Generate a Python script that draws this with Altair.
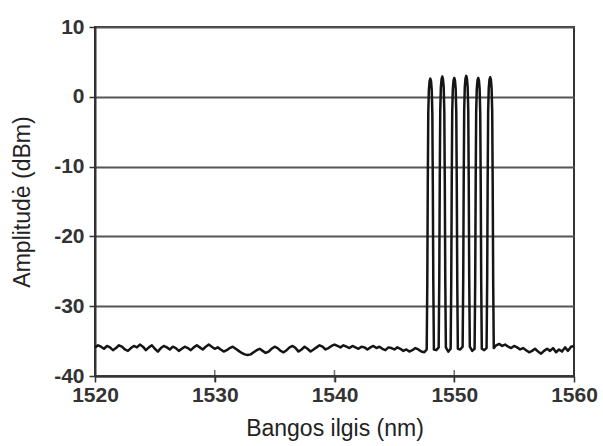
import altair as alt
import pandas as pd

# Noise floor before the channel block, 1520.00 .. 1547.50 nm every 0.25 nm (dBm)
pre_noise = [
    -35.9, -35.6, -35.8, -36.1, -35.7, -35.9, -36.3, -36.0, -35.6, -35.8,
    -36.2, -36.4, -36.0, -35.7, -35.9, -35.5, -35.8, -36.3, -35.9, -35.6,
    -36.1, -36.5, -36.0, -35.7, -35.9, -36.2, -35.8, -36.0, -36.4, -36.1,
    -35.8, -36.0, -36.3, -35.9, -35.6, -35.9, -36.2, -35.8, -35.5, -35.8,
    -36.1, -35.9, -36.2, -36.5, -36.3, -36.0, -35.8, -36.1, -36.4, -36.7,
    -36.9, -37.0, -36.9, -36.6, -36.3, -36.1, -36.4, -36.7, -36.5, -36.1,
    -35.8, -36.0, -36.4, -36.6, -36.3, -35.9, -35.7, -36.0, -36.5, -36.2,
    -35.8, -36.1, -36.5, -36.2, -35.9, -35.6, -35.8, -36.2, -36.0, -35.7,
    -35.5, -35.7, -35.9, -35.6, -35.8, -36.0, -35.7, -35.9, -36.1, -35.8,
    -35.9, -36.2, -35.9, -35.7, -36.0, -35.8, -36.1, -36.3, -35.9, -36.0,
    -36.2, -35.9, -36.1, -36.4, -36.2, -36.5, -36.3, -36.0, -36.2, -36.5,
    -36.6,
]
pre_start = 1520.0

# Noise floor after the channel block, 1553.50 .. 1560.00 nm every 0.25 nm
post_noise = [
    -35.6, -35.4, -35.7, -35.5, -35.8, -36.0, -35.7, -35.9, -36.2, -36.0,
    -36.3, -36.6, -36.4, -36.1, -36.5, -36.8, -36.4, -36.1, -36.4, -36.0,
    -36.6, -36.2, -36.5, -35.9, -36.4, -35.8, -35.7,
]
post_start = 1553.5
step = 0.25

# Six DWDM channels
peak_centers = [1548.0, 1549.0, 1550.0, 1551.0, 1552.0, 1553.0]
peak_tops = [2.6, 2.9, 2.7, 3.0, 2.7, 2.8]
valley_levels = [-36.3, -36.5, -36.2, -36.4, -36.3]

# Shape of one channel: offset from centre (nm) and drop below its top (dB)
profile_dx = [-0.30, -0.25, -0.21, -0.17, -0.12, -0.06, 0.0,
              0.06, 0.12, 0.17, 0.21, 0.25, 0.30]
profile_drop = [38.8, 29.0, 15.0, 5.0, 1.6, 0.35, 0.0,
                0.35, 1.6, 5.0, 15.0, 29.0, 38.8]

x_tick_values = [1520, 1530, 1540, 1550, 1560]
y_tick_values = [-40, -30, -20, -10, 0, 10]
inner_ticks = [1530, 1540, 1550]

rows = []
for i, v in enumerate(pre_noise):
    rows.append({"wl": pre_start + i * step, "amp": v})
for i, (c, top) in enumerate(zip(peak_centers, peak_tops)):
    for dx, dr in zip(profile_dx, profile_drop):
        rows.append({"wl": c + dx, "amp": top - dr})
    if i < len(valley_levels):
        rows.append({"wl": (c + peak_centers[i + 1]) / 2, "amp": valley_levels[i]})
for i, v in enumerate(post_noise):
    rows.append({"wl": post_start + i * step, "amp": v})
df = pd.DataFrame(rows).sort_values("wl")

xscale = alt.Scale(domain=[1520, 1560], nice=False, zero=False)
yscale = alt.Scale(domain=[-40, 10], nice=False, zero=False)

label_expr = "toString(datum.value)"

line = alt.Chart(df).mark_line(
    color="#151515", strokeWidth=2.5, strokeJoin="round"
).encode(
    x=alt.X("wl:Q", scale=xscale,
            axis=alt.Axis(values=x_tick_values, labelExpr=label_expr, grid=False,
                          labelFlush=False, labelOverlap=False,
                          title="Bangos ilgis (nm)", labelPadding=2,
                          titlePadding=12)),
    y=alt.Y("amp:Q", scale=yscale,
            axis=alt.Axis(values=y_tick_values, labelExpr=label_expr, grid=True,
                          labelFlush=False, labelOverlap=False,
                          title="Amplitudė (dBm)", labelPadding=5,
                          titlePadding=19)),
    order="wl:Q",
)

ticks = alt.Chart(pd.DataFrame({"wl": inner_ticks, "amp": [-40] * len(inner_ticks)})).mark_tick(
    color="#333", thickness=1.5, size=12, orient="vertical"
).encode(
    x=alt.X("wl:Q", scale=xscale),
    y=alt.Y("amp:Q", scale=yscale),
)

chart = alt.layer(line, ticks).properties(
    width=479, height=349,
    autosize=alt.AutoSizeParams(type="none"),
    padding={"left": 95, "top": 27, "right": 29, "bottom": 70},
    background="white",
).configure_view(
    stroke="#333", strokeWidth=2
).configure_axis(
    labelFont="Liberation Sans", labelFontWeight="bold", labelFontSize=21,
    labelColor="#333",
    titleFont="Liberation Sans", titleFontWeight="normal", titleFontSize=23,
    titleColor="#222",
    domainColor="#333", domainWidth=2,
    tickColor="#333", tickWidth=1.5, tickSize=6,
    gridColor="#555", gridWidth=1.8, gridOpacity=1,
)

chart.save("out.html", embed_options={"renderer": "svg", "actions": False})
